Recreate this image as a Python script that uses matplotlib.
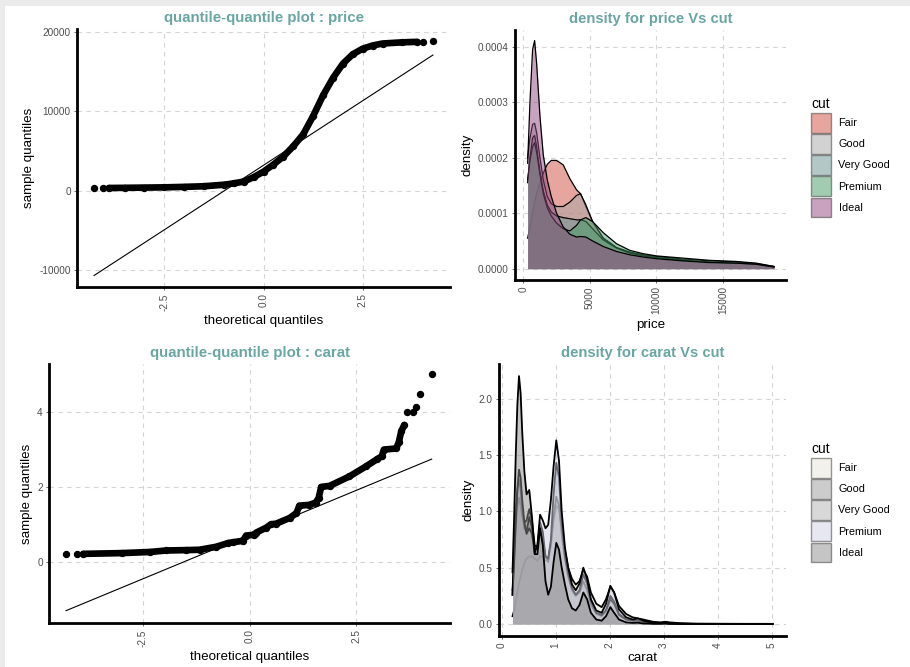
import matplotlib
matplotlib.use("Agg")
import matplotlib.pyplot as plt
from matplotlib.patches import Patch, Rectangle
from matplotlib.ticker import FixedLocator, FormatStrFormatter

plt.rcParams['font.family'] = ['Liberation Sans', 'DejaVu Sans']

# ---------------- data ----------------
cuts = ["Fair", "Good", "Very Good", "Premium", "Ideal"]

# QQ plot : price
price_theo = [-4.27, -4.04, -3.9, -3.5, -3.0, -2.5, -2.0, -1.5, -1.0, -0.75, -0.5, -0.25, 0.0,
              0.25, 0.5, 0.75, 1.0, 1.25, 1.5, 1.75, 2.0, 2.25, 2.5, 2.75, 3.0, 3.5, 3.87, 4.03, 4.28]
price_sample = [326, 335, 340, 360, 390, 420, 480, 560, 750, 920, 1150, 1700, 2400,
                3300, 4300, 5600, 7100, 9400, 12000, 14200, 16000, 17200, 17900, 18300, 18550, 18700, 18760, 18780, 18823]
price_line_theo = [-4.27, 4.27]
price_line_sample = [-10690, 17100]

# QQ plot : carat
carat_theo = [-4.30, -4.05, -3.90, -3.00, -2.34, -1.95, -1.50, -1.17, -0.78, -0.50, -0.39, -0.15, -0.08,
              0.10, 0.16, 0.39, 0.50, 0.63, 0.94, 1.10, 1.17, 1.40, 1.55, 1.62, 1.68, 1.88, 2.34, 2.73,
              3.00, 3.10, 3.15, 3.44, 3.50, 3.56, 3.63, 3.70, 3.83, 3.90, 4.00, 4.27]
carat_sample = [0.20, 0.20, 0.21, 0.23, 0.26, 0.30, 0.31, 0.32, 0.40, 0.50, 0.52, 0.56, 0.70,
                0.72, 0.78, 0.91, 1.00, 1.02, 1.17, 1.30, 1.50, 1.52, 1.58, 1.70, 2.00, 2.03, 2.28, 2.55,
                2.75, 2.82, 3.00, 3.03, 3.20, 3.50, 3.66, 4.01, 4.01, 4.13, 4.50, 5.01]
carat_line_theo = [-4.30, 4.27]
carat_line_sample = [-1.31, 2.745]

# density of price by cut (values in units of 1e-4)
price_grid = [326, 500, 700, 850, 1000, 1250, 1500, 1800, 2100, 2500, 3000, 3500, 4000, 4300, 4700,
              5200, 6000, 7000, 8000, 9000, 10000, 12000, 14000, 16000, 17500, 18823]
price_dens_fair = [0.55, 0.75, 1.0, 1.2, 1.35, 1.55, 1.72, 1.88, 1.95, 1.95, 1.87, 1.62, 1.42, 1.35, 1.12,
                   0.85, 0.55, 0.38, 0.30, 0.25, 0.22, 0.17, 0.14, 0.12, 0.09, 0.04]
price_dens_good = [2.0, 2.35, 2.6, 2.62, 2.45, 2.0, 1.6, 1.3, 1.17, 1.12, 1.12, 1.2, 1.32, 1.35, 1.15,
                   0.85, 0.55, 0.38, 0.29, 0.24, 0.21, 0.16, 0.12, 0.10, 0.08, 0.03]
price_dens_vgood = [1.55, 2.0, 2.36, 2.4, 2.2, 1.75, 1.4, 1.15, 1.02, 0.95, 0.92, 0.9, 0.88, 0.88, 0.85,
                    0.72, 0.52, 0.37, 0.28, 0.23, 0.20, 0.15, 0.12, 0.10, 0.08, 0.03]
price_dens_premium = [1.6, 1.95, 2.2, 2.27, 2.1, 1.7, 1.35, 1.1, 0.95, 0.82, 0.72, 0.68, 0.78, 0.88, 0.92,
                      0.85, 0.65, 0.45, 0.33, 0.27, 0.23, 0.19, 0.15, 0.13, 0.10, 0.04]
price_dens_ideal = [1.9, 3.0, 3.95, 4.11, 3.7, 2.75, 2.05, 1.6, 1.3, 1.0, 0.75, 0.62, 0.57, 0.58, 0.57,
                    0.50, 0.40, 0.31, 0.25, 0.21, 0.18, 0.14, 0.11, 0.10, 0.08, 0.03]

# density of carat by cut
carat_grid = [0.2, 0.23, 0.26, 0.29, 0.32, 0.35, 0.38, 0.42, 0.46, 0.51, 0.56, 0.61, 0.66, 0.71, 0.76,
              0.81, 0.86, 0.91, 0.96, 1.01, 1.06, 1.11, 1.17, 1.23, 1.3, 1.37, 1.44, 1.51, 1.58, 1.65,
              1.75, 1.85, 1.93, 2.01, 2.08, 2.17, 2.3, 2.42, 2.52, 2.62, 2.8, 2.95, 3.02, 3.1, 3.3,
              3.6, 4.0, 4.5, 5.01]
carat_dens_fair = [0.07, 0.12, 0.2, 0.28, 0.36, 0.42, 0.48, 0.54, 0.58, 0.6, 0.6, 0.58, 0.56, 0.6, 0.6,
                   0.56, 0.58, 0.72, 0.92, 1.05, 1.02, 0.85, 0.65, 0.5, 0.4, 0.35, 0.38, 0.48, 0.42, 0.28,
                   0.18, 0.15, 0.22, 0.33, 0.28, 0.16, 0.09, 0.06, 0.05, 0.04, 0.02, 0.015, 0.02, 0.015, 0.008,
                   0.004, 0.003, 0.002, 0.002]
carat_dens_good = [0.26, 0.55, 0.85, 1.05, 1.12, 1.05, 0.95, 0.9, 0.92, 1.02, 0.92, 0.7, 0.68, 0.9, 0.82,
                   0.6, 0.55, 0.7, 0.95, 1.13, 1.05, 0.8, 0.58, 0.42, 0.3, 0.25, 0.28, 0.38, 0.3, 0.17,
                   0.09, 0.07, 0.12, 0.25, 0.2, 0.09, 0.04, 0.03, 0.03, 0.02, 0.005, 0.005, 0.008, 0.0, 0.0,
                   0.0, 0.0, 0.0, 0.0]
carat_dens_vgood = [0.3, 0.6, 0.95, 1.18, 1.28, 1.2, 1.0, 0.85, 0.82, 0.95, 0.85, 0.66, 0.68, 0.84, 0.75,
                    0.6, 0.58, 0.75, 1.15, 1.43, 1.3, 0.9, 0.6, 0.45, 0.32, 0.26, 0.3, 0.44, 0.36, 0.2,
                    0.1, 0.08, 0.12, 0.22, 0.18, 0.08, 0.04, 0.03, 0.03, 0.02, 0.005, 0.005, 0.01, 0.005, 0.002,
                    0.001, 0.001, 0.0, 0.0]
carat_dens_premium = [0.26, 0.55, 0.9, 1.2, 1.37, 1.3, 1.1, 0.9, 0.8, 0.85, 0.8, 0.63, 0.7, 0.97, 0.92,
                      0.85, 0.88, 1.1, 1.4, 1.63, 1.45, 1.0, 0.68, 0.5, 0.35, 0.3, 0.36, 0.5, 0.4, 0.22,
                      0.12, 0.1, 0.18, 0.34, 0.28, 0.13, 0.06, 0.04, 0.05, 0.03, 0.01, 0.01, 0.02, 0.01, 0.003,
                      0.001, 0.001, 0.0, 0.0]
carat_dens_ideal = [0.46, 0.95, 1.5, 1.95, 2.2, 2.05, 1.7, 1.35, 1.15, 1.19, 0.95, 0.62, 0.62, 0.85, 0.7,
                    0.38, 0.26, 0.33, 0.55, 0.72, 0.66, 0.5, 0.35, 0.22, 0.14, 0.12, 0.17, 0.28, 0.22, 0.1,
                    0.04, 0.03, 0.07, 0.15, 0.1, 0.04, 0.015, 0.01, 0.012, 0.005, 0.003, 0.003, 0.004, 0.002, 0.001,
                    0.0, 0.0, 0.0, 0.0]

price_fill_colors = ["#D14D41", "#A7A7A7", "#6B9191", "#479B67", "#93477F"]
carat_fill_colors = ["#E9E5D9", "#9B9B9B", "#B3B3B3", "#D1D1E5", "#8D8D8D"]

# ---------------- style ----------------
TITLE_COLOR = "#69A6A3"
TICK_COLOR = "#4D4D4D"
W, H = 910, 667

fig = plt.figure(figsize=(W / 100, H / 100), dpi=100)
fig.patch.set_facecolor("#EBEBEB")
fig.add_artist(Rectangle((5 / W, 0), 1 - 5 / W, 1 - 6 / H, transform=fig.transFigure,
                         facecolor="white", edgecolor="none", zorder=-10))


def make_axes(left, top, right, bottom):
    ax = fig.add_axes([left / W, 1 - bottom / H, (right - left) / W, (bottom - top) / H])
    ax.set_facecolor("none")
    for s in ("top", "right"):
        ax.spines[s].set_visible(False)
    for s in ("left", "bottom"):
        ax.spines[s].set_linewidth(2.0)
        ax.spines[s].set_color("black")
    ax.grid(True, linestyle=(0, (4, 4)), color="#D4D4D4", linewidth=0.8)
    ax.set_axisbelow(True)
    ax.tick_params(axis="both", labelsize=7.2, labelcolor=TICK_COLOR, color="#555555",
                   length=2.5, width=0.6, pad=2)
    ax.tick_params(axis="x", labelrotation=90)
    return ax


def style_text(ax, title, xlabel, ylabel, tsize):
    ax.set_title(title, fontsize=tsize, fontweight="bold", color=TITLE_COLOR, pad=5)
    ax.set_xlabel(xlabel, fontsize=9.6, labelpad=3)
    ax.set_ylabel(ylabel, fontsize=9.6, labelpad=3)


# ---- panel 1: QQ price ----
ax1 = make_axes(77, 29, 450, 287)
ax1.plot(price_theo[2:-2], price_sample[2:-2], color="black", lw=4.8, solid_capstyle="round", zorder=3)
ax1.plot(price_theo, price_sample, "o", color="black", ms=4.3, zorder=3)
ax1.plot(price_line_theo, price_line_sample, color="black", lw=0.8, zorder=4)
ax1.set_xlim(-4.7, 4.7)
ax1.set_ylim(-12140, 20380)
ax1.xaxis.set_major_locator(FixedLocator([-2.5, 0, 2.5]))
ax1.xaxis.set_major_formatter(FormatStrFormatter("%.1f"))
ax1.yaxis.set_major_locator(FixedLocator([-10000, 0, 10000, 20000]))
ax1.yaxis.set_major_formatter(FormatStrFormatter("%d"))
style_text(ax1, "quantile-quantile plot : price", "theoretical quantiles", "sample quantiles", 10.8)

# ---- panel 3: QQ carat ----
ax3 = make_axes(49, 364, 450, 623)
ax3.plot(carat_theo[2:-5], carat_sample[2:-5], color="black", lw=4.8, solid_capstyle="round", zorder=3)
ax3.plot(carat_theo, carat_sample, "o", color="black", ms=4.3, zorder=3)
ax3.plot(carat_line_theo, carat_line_sample, color="black", lw=0.8, zorder=4)
ax3.set_xlim(-4.7, 4.7)
ax3.set_ylim(-1.64, 5.29)
ax3.xaxis.set_major_locator(FixedLocator([-2.5, 0, 2.5]))
ax3.xaxis.set_major_formatter(FormatStrFormatter("%.1f"))
ax3.yaxis.set_major_locator(FixedLocator([0, 2, 4]))
ax3.yaxis.set_major_formatter(FormatStrFormatter("%d"))
style_text(ax3, "quantile-quantile plot : carat", "theoretical quantiles", "sample quantiles", 10.8)


def legend(ax, colors, top_px):
    handles = [Patch(facecolor=c, alpha=0.5, edgecolor="#333333", linewidth=1.0) for c in colors]
    leg = ax.legend(handles, cuts, title="cut", loc="upper left",
                    bbox_to_anchor=(806 / W, 1 - top_px / H), bbox_transform=fig.transFigure,
                    frameon=False, fontsize=7.8, title_fontsize=10, borderpad=0,
                    handlelength=1.85, handleheight=2.45, labelspacing=0.12, handletextpad=0.65,
                    alignment="left")
    for p in leg.get_patches():
        p.set_edgecolor("#333333")
    return leg


# ---- panel 2: density price ----
ax2 = make_axes(515, 30, 786, 280)
price_series = [price_dens_fair, price_dens_good, price_dens_vgood, price_dens_premium, price_dens_ideal]
for i, (vals, col) in enumerate(zip(price_series, price_fill_colors)):
    y = [v * 1e-4 for v in vals]
    ax2.fill_between(price_grid, 0, y, color=col, alpha=0.5, linewidth=0, zorder=2 + 2 * i)
    ax2.plot(price_grid, y, color="black", lw=0.9, zorder=3 + 2 * i)
ax2.set_xlim(-623, 19730)
ax2.set_ylim(-0.0000204, 0.00043)
ax2.xaxis.set_major_locator(FixedLocator([0, 5000, 10000, 15000]))
ax2.xaxis.set_major_formatter(FormatStrFormatter("%d"))
ax2.yaxis.set_major_locator(FixedLocator([0, 0.0001, 0.0002, 0.0003, 0.0004]))
ax2.yaxis.set_major_formatter(FormatStrFormatter("%.4f"))
style_text(ax2, "density for price Vs cut", "price", "density", 10.6)
legend(ax2, price_fill_colors, 92)

# ---- panel 4: density carat ----
ax4 = make_axes(499, 364, 786, 636)
carat_series = [carat_dens_fair, carat_dens_good, carat_dens_vgood, carat_dens_premium, carat_dens_ideal]
for i, (vals, col) in enumerate(zip(carat_series, carat_fill_colors)):
    ax4.fill_between(carat_grid, 0, vals, color=col, alpha=0.5, linewidth=0, zorder=2 + 2 * i)
    ax4.plot(carat_grid, vals, color="black", lw=1.3, zorder=3 + 2 * i)
ax4.set_xlim(-0.05, 5.26)
ax4.set_ylim(-0.106, 2.307)
ax4.xaxis.set_major_locator(FixedLocator([0, 1, 2, 3, 4, 5]))
ax4.xaxis.set_major_formatter(FormatStrFormatter("%d"))
ax4.yaxis.set_major_locator(FixedLocator([0, 0.5, 1.0, 1.5, 2.0]))
ax4.yaxis.set_major_formatter(FormatStrFormatter("%.1f"))
style_text(ax4, "density for carat Vs cut", "carat", "density", 10.6)
legend(ax4, carat_fill_colors, 437)

fig.savefig("out.png", dpi=100, facecolor=fig.get_facecolor())
